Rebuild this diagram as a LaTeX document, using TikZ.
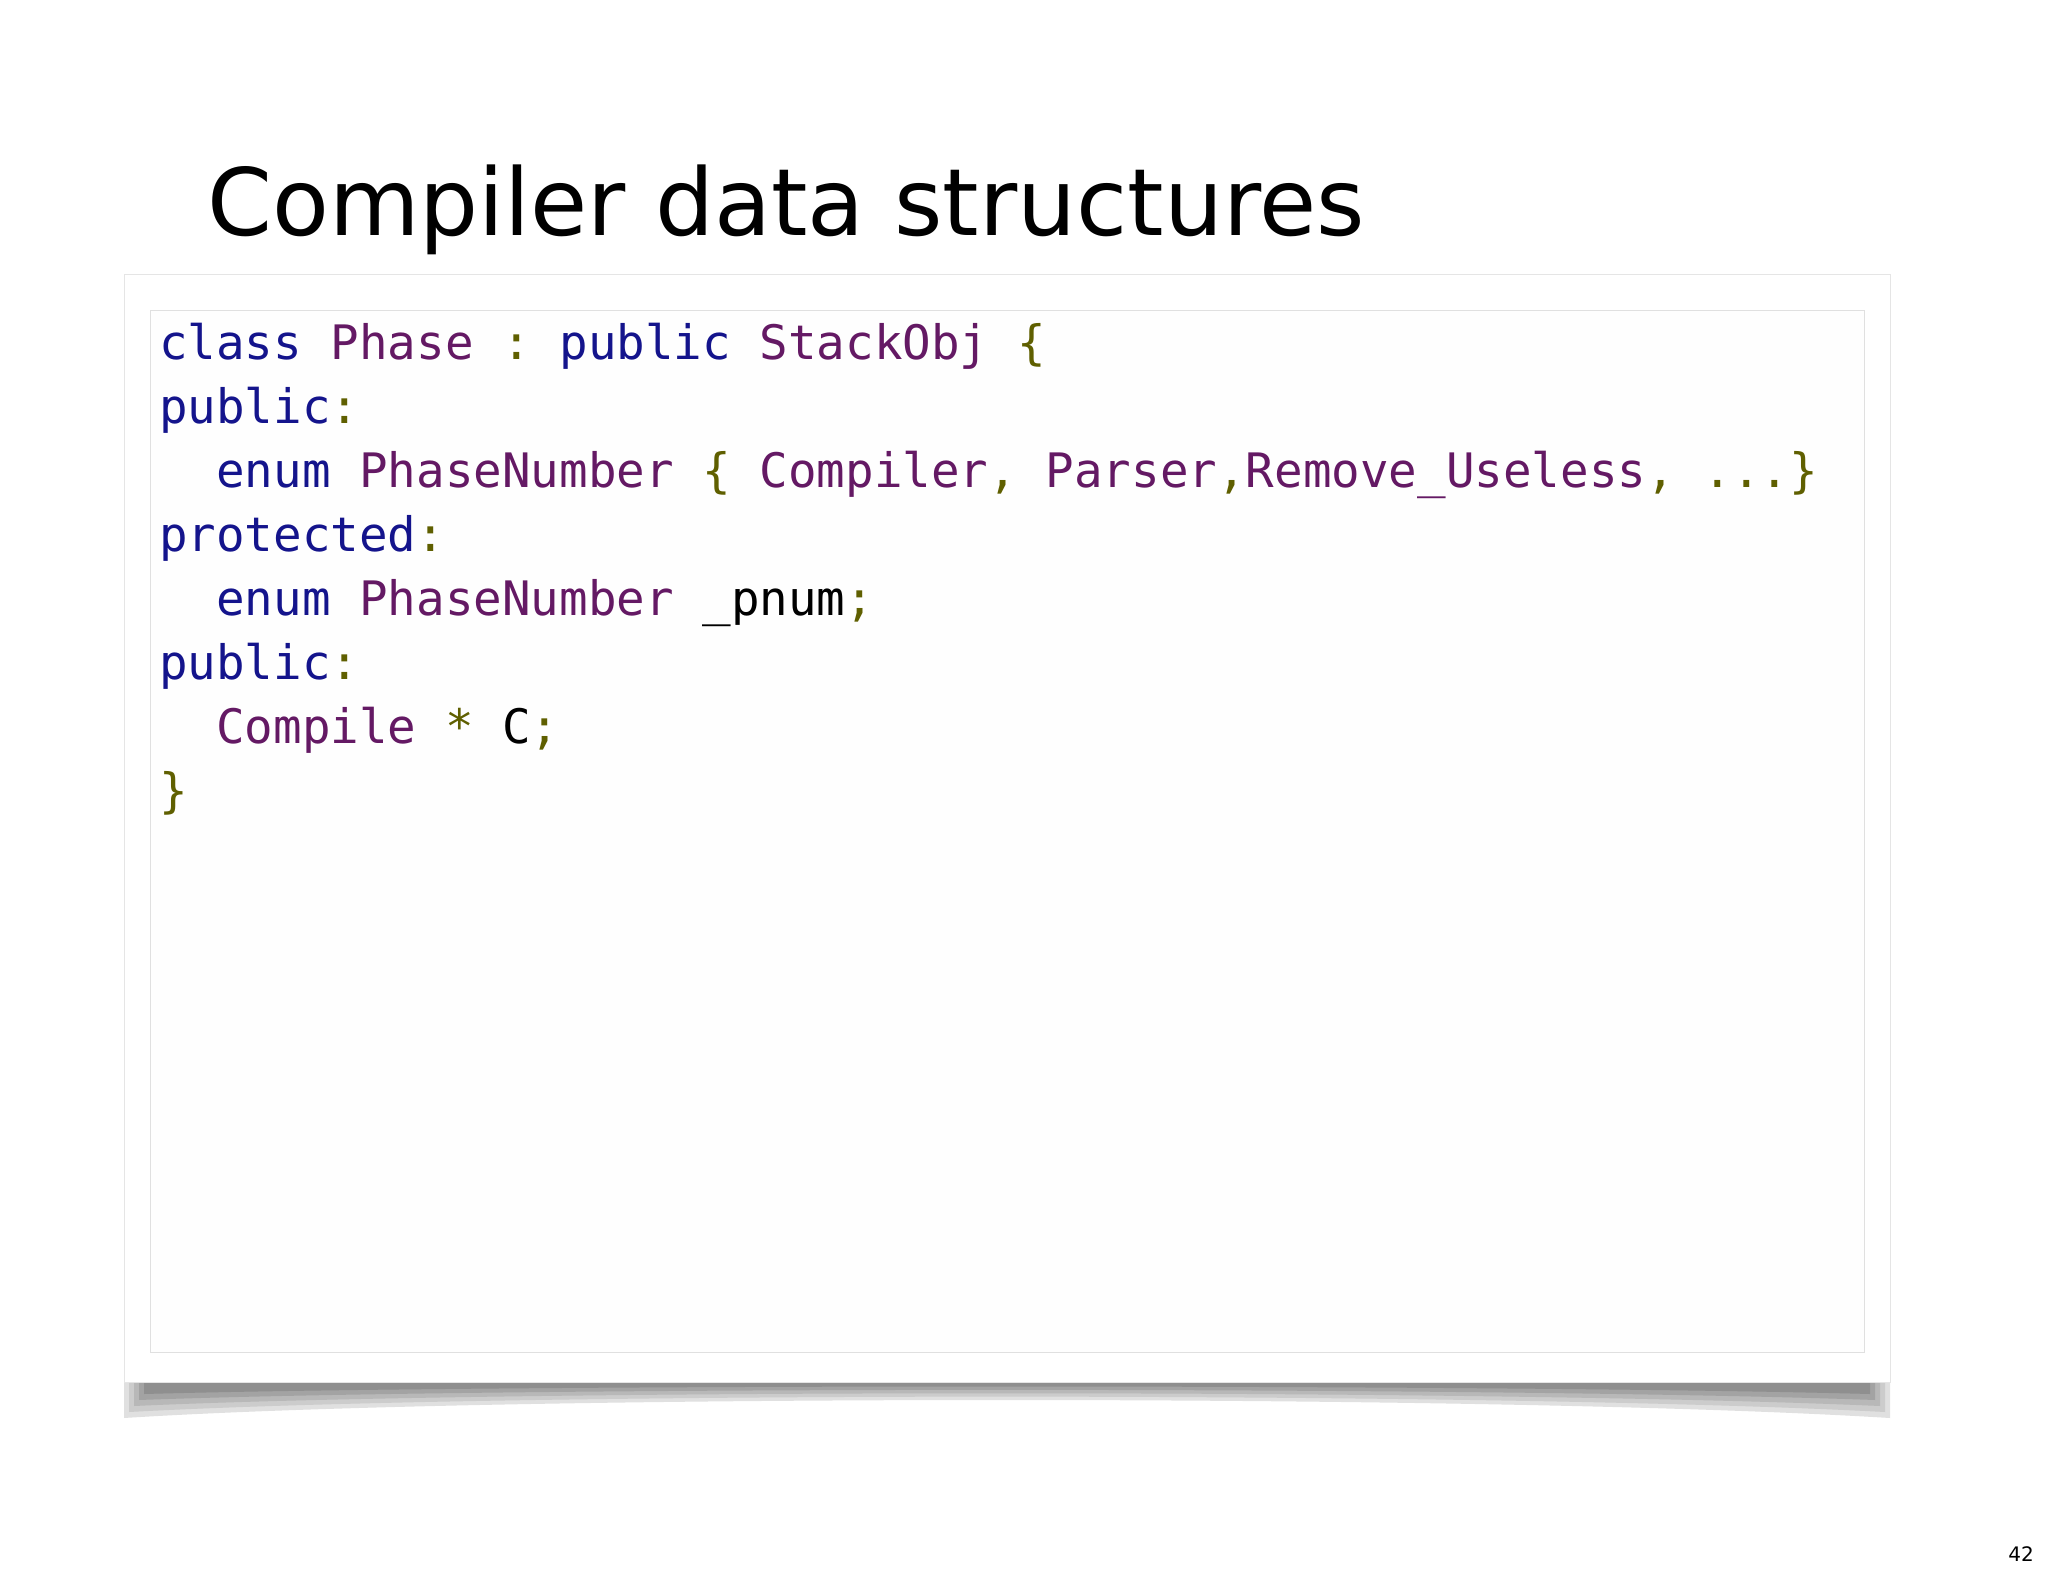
\documentclass[tikz,border=0pt]{standalone}
\usepackage{fontspec}
\setmainfont{DejaVu Sans}
\setmonofont{DejaVu Sans Mono}
\definecolor{kw}{RGB}{20,20,140}
\definecolor{idn}{RGB}{100,25,100}
\definecolor{pun}{RGB}{95,95,0}
\begin{document}
\begin{tikzpicture}[x=1pt,y=-1pt,
  codeline/.style={anchor=base west,inner sep=0pt,font=\fontsize{47.5}{50}\ttfamily}]
\useasboundingbox (0,0) rectangle (2048,1576);
\fill[white] (0,0) rectangle (2048,1576);
% shadow
\foreach \i/\c in {0/12,1/20,2/28,3/36,4/44}{
  \fill[black!\c] (124+\i*5,1382) -- (1890-\i*5,1382) -- (1890-\i*5,1418-\i*6) .. controls (1500,1394-\i*2.5) and (500,1394-\i*2.5) .. (124+\i*5,1418-\i*6) -- cycle;}
\node[draw=black!10,fill=white,minimum width=1766,minimum height=1108,anchor=north west,inner sep=0pt] (panel) at (124,274) {};
\node[draw=black!12,fill=black!0.5,minimum width=1714,minimum height=1042,anchor=north west,inner sep=0pt] (inner) at (150,310) {};
\node[anchor=base west,inner sep=0pt,font=\fontsize{93}{100}\selectfont] (title) at (207,235) {Compiler data structures};
\node[codeline] (l1) at (159,359) {\textcolor{kw}{class} \textcolor{idn}{Phase} \textcolor{pun}{:} \textcolor{kw}{public} \textcolor{idn}{StackObj} \textcolor{pun}{\{}};
\node[codeline] (l2) at (159,423) {\textcolor{kw}{public}\textcolor{pun}{:}};
\node[codeline] (l3) at (159,487) {\ \ \textcolor{kw}{enum} \textcolor{idn}{PhaseNumber} \textcolor{pun}{\{} \textcolor{idn}{Compiler}\textcolor{pun}{,} \textcolor{idn}{Parser}\textcolor{pun}{,}\textcolor{idn}{Remove\_Useless}\textcolor{pun}{, ...\}}};
\node[codeline] (l4) at (159,551) {\textcolor{kw}{protected}\textcolor{pun}{:}};
\node[codeline] (l5) at (159,615) {\ \ \textcolor{kw}{enum} \textcolor{idn}{PhaseNumber} \_pnum\textcolor{pun}{;}};
\node[codeline] (l6) at (159,679) {\textcolor{kw}{public}\textcolor{pun}{:}};
\node[codeline] (l7) at (159,743) {\ \ \textcolor{idn}{Compile} \textcolor{pun}{*} C\textcolor{pun}{;}};
\node[codeline] (l8) at (159,807) {\textcolor{pun}{\}}};
\node[anchor=base east,inner sep=0pt,font=\fontsize{20}{22}\selectfont] (pg) at (2034,1561) {42};
\end{tikzpicture}
\end{document}
